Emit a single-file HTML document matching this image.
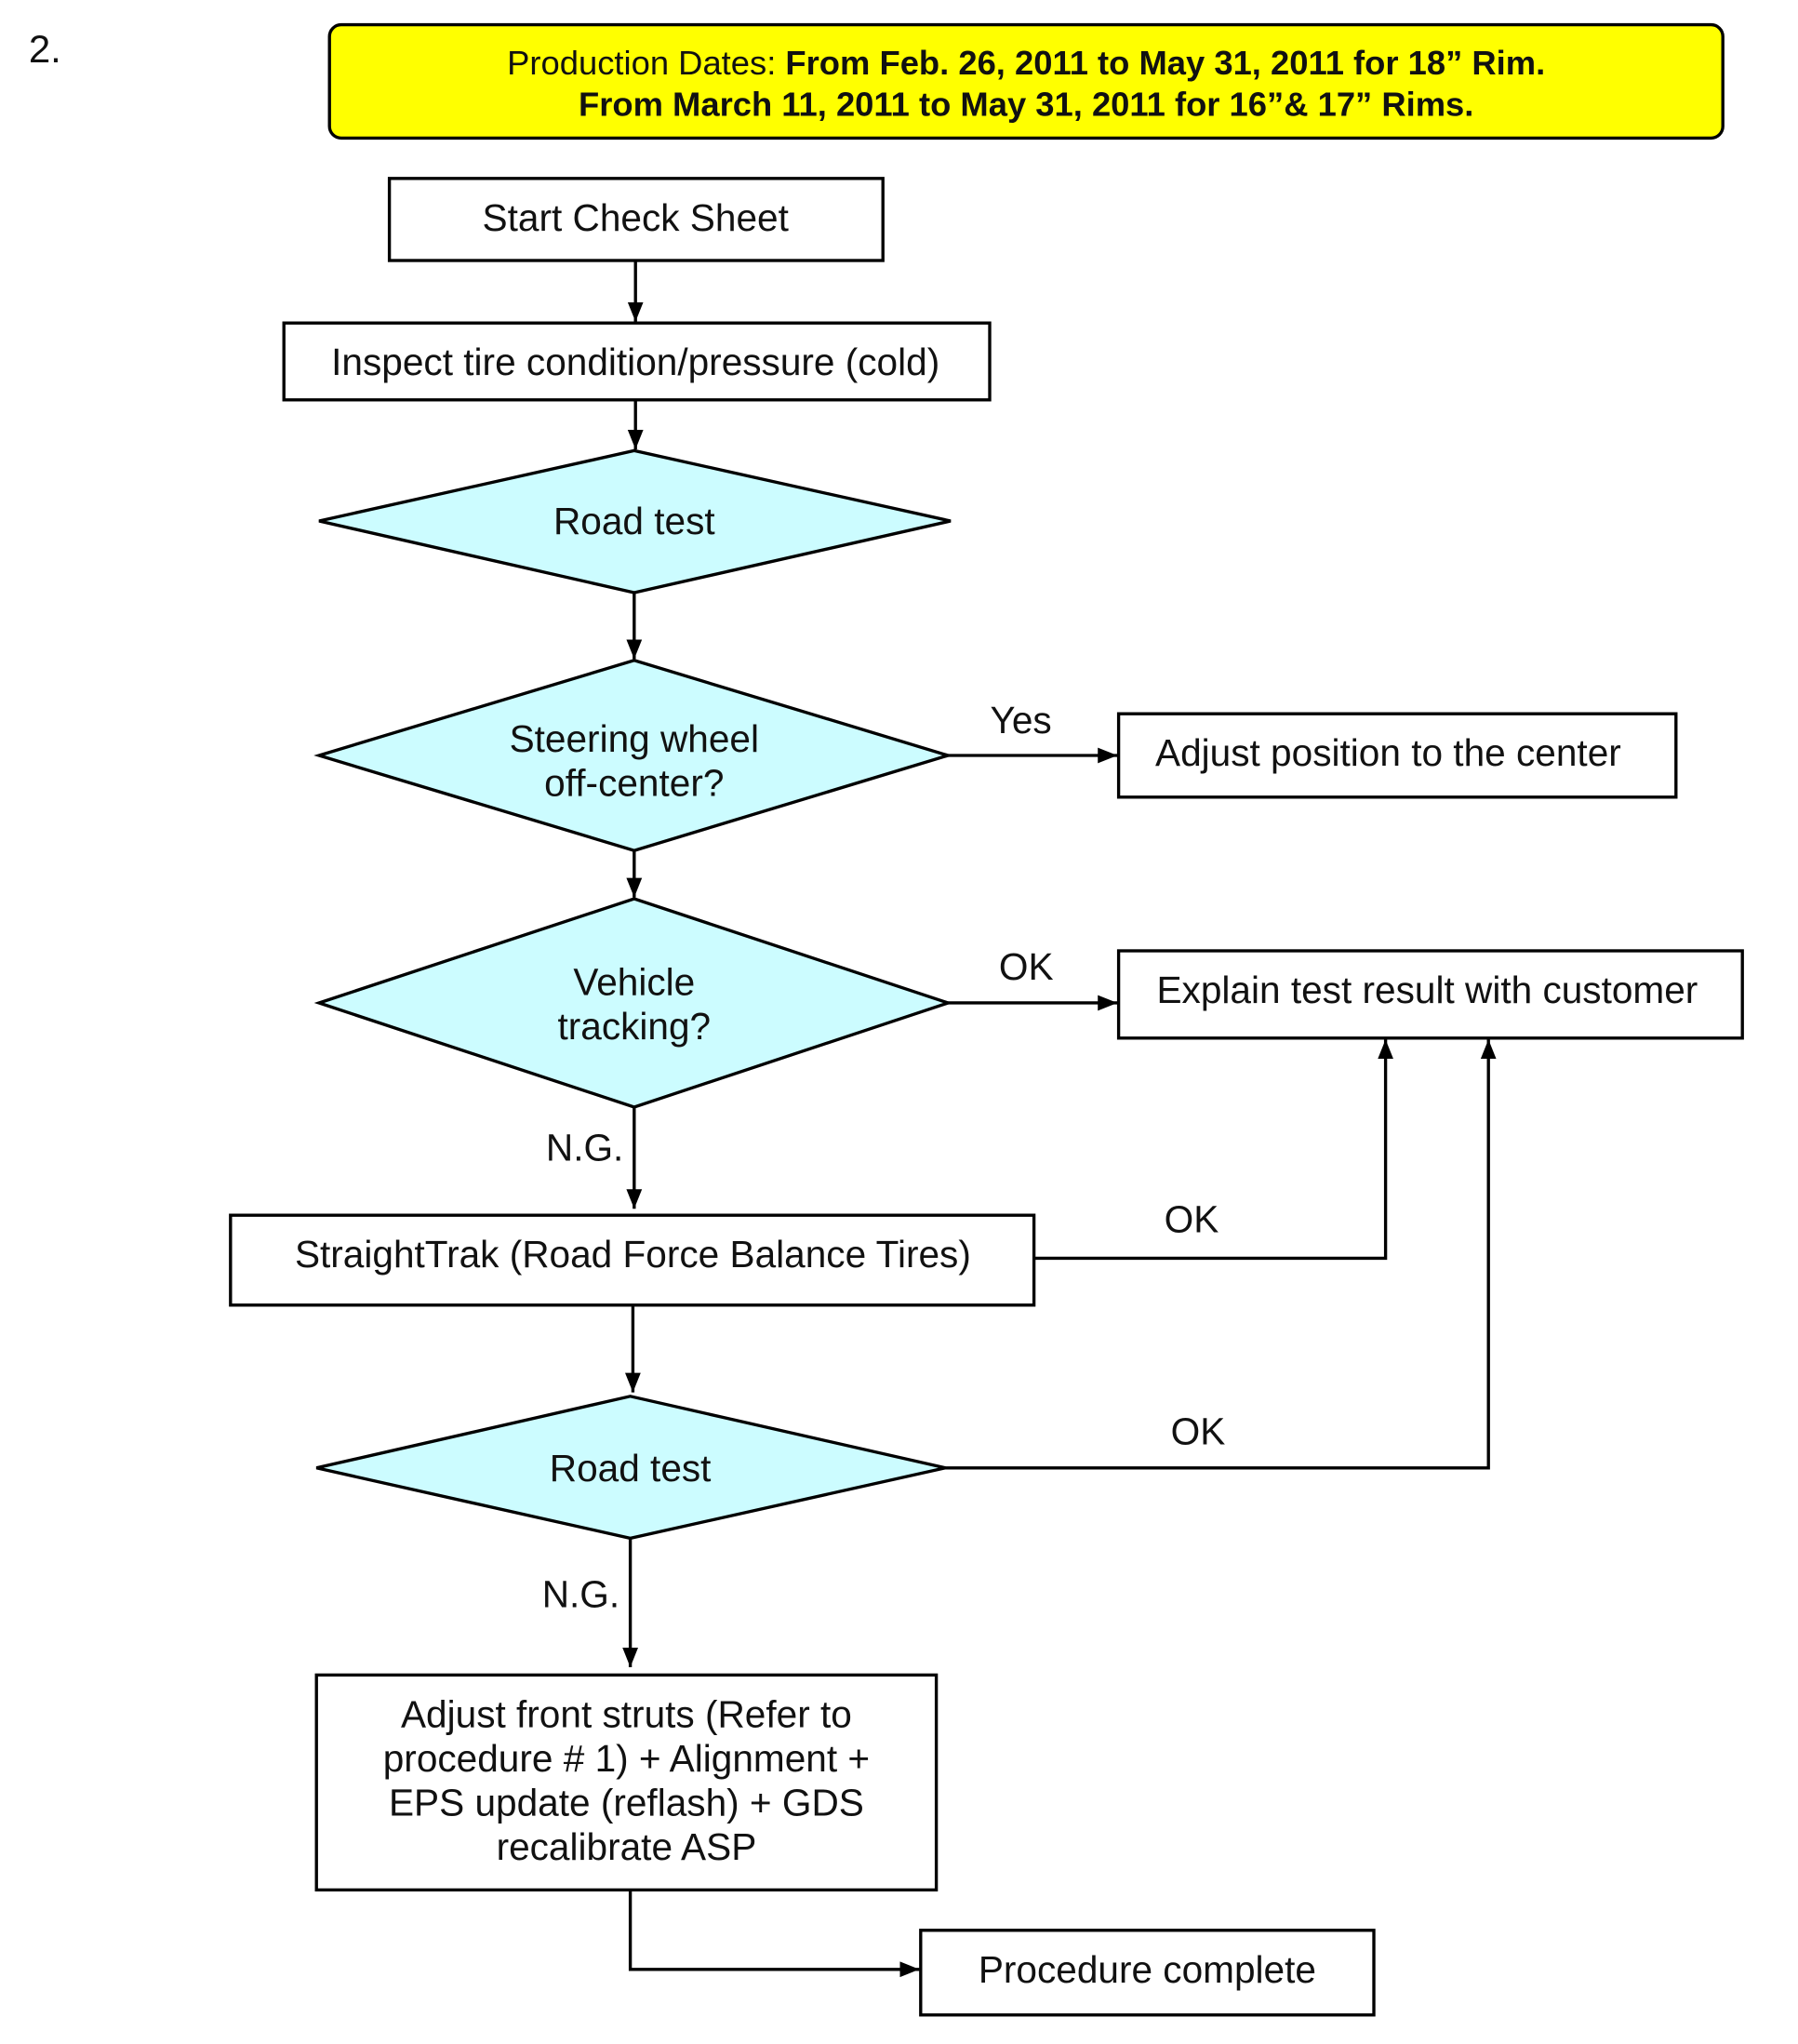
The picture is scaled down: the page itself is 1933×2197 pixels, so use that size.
<!DOCTYPE html>
<html><head><meta charset="utf-8"><style>
html,body{margin:0;padding:0;background:#fff;}
svg{display:block;}
text{font-family:"Liberation Sans",Arial,sans-serif;fill:#111;}
</style></head><body>
<svg width="1933" height="2197" viewBox="0 0 1380.7 1569.3" xmlns="http://www.w3.org/2000/svg">
<defs>
<marker id="a" viewBox="0 0 10 10" refX="10" refY="5" markerWidth="15" markerHeight="15" markerUnits="userSpaceOnUse" orient="auto"><path d="M0,1 L10,5 L0,9 z" fill="#000"/></marker>
</defs>
<g stroke="#000" stroke-width="2.4" fill="none">
<text x="22" y="48" font-size="30" stroke="none">2.</text>
<rect x="253" y="19" width="1070" height="87" rx="9" fill="#ffff00"/>
<rect x="299" y="137" width="379" height="63" fill="#fff"/>
<rect x="218" y="248" width="542" height="59" fill="#fff"/>
<polygon points="245,400 487,346 730,400 487,455" fill="#ccfcff"/>
<polygon points="245,580 487,507 728,580 487,653" fill="#ccfcff"/>
<polygon points="245,770 487,690 728,770 487,850" fill="#ccfcff"/>
<rect x="177" y="933" width="617" height="69" fill="#fff"/>
<polygon points="243,1127 484,1072 726,1127 484,1181" fill="#ccfcff"/>
<rect x="243" y="1286" width="476" height="165" fill="#fff"/>
<rect x="707" y="1482" width="348" height="65" fill="#fff"/>
<rect x="859" y="548" width="428" height="64" fill="#fff"/>
<rect x="859" y="730" width="479" height="67" fill="#fff"/>
<line x1="488" y1="200" x2="488" y2="247" marker-end="url(#a)"/>
<line x1="488" y1="307" x2="488" y2="345" marker-end="url(#a)"/>
<line x1="487" y1="455" x2="487" y2="506" marker-end="url(#a)"/>
<line x1="487" y1="653" x2="487" y2="689" marker-end="url(#a)"/>
<line x1="487" y1="850" x2="487" y2="928" marker-end="url(#a)"/>
<line x1="486" y1="1002" x2="486" y2="1069" marker-end="url(#a)"/>
<line x1="484" y1="1181" x2="484" y2="1280" marker-end="url(#a)"/>
<polyline points="484,1451 484,1512 706,1512" marker-end="url(#a)"/>
<line x1="728" y1="580" x2="858" y2="580" marker-end="url(#a)"/>
<line x1="728" y1="770" x2="858" y2="770" marker-end="url(#a)"/>
<polyline points="794,966 1064,966 1064,798" marker-end="url(#a)"/>
<polyline points="726,1127 1143,1127 1143,798" marker-end="url(#a)"/>
</g>
<g font-size="29" text-anchor="middle">
<text x="788" y="57" font-size="26"><tspan>Production Dates: </tspan><tspan font-weight="bold">From Feb. 26, 2011 to May 31, 2011 for 18” Rim.</tspan></text>
<text x="788" y="89" font-size="26" font-weight="bold">From March 11, 2011 to May 31, 2011 for 16”&amp; 17” Rims.</text>
<text x="488" y="177">Start Check Sheet</text>
<text x="488" y="288">Inspect tire condition/pressure (cold)</text>
<text x="487" y="410">Road test</text>
<text x="487" y="577">Steering wheel</text>
<text x="487" y="611">off-center?</text>
<text x="487" y="764">Vehicle</text>
<text x="487" y="798">tracking?</text>
<text x="486" y="973">StraightTrak (Road Force Balance Tires)</text>
<text x="484" y="1137">Road test</text>
<text x="481" y="1326">Adjust front struts (Refer to</text>
<text x="481" y="1360">procedure # 1) + Alignment +</text>
<text x="481" y="1394">EPS update (reflash) + GDS</text>
<text x="481" y="1428">recalibrate ASP</text>
<text x="881" y="1522">Procedure complete</text>
<text x="1066" y="588">Adjust position to the center</text>
<text x="1096" y="770">Explain test result with customer</text>
<text x="784" y="563">Yes</text>
<text x="788" y="752">OK</text>
<text x="449" y="891">N.G.</text>
<text x="915" y="946">OK</text>
<text x="920" y="1109">OK</text>
<text x="446" y="1234">N.G.</text>
</g>
</svg>
</body></html>
